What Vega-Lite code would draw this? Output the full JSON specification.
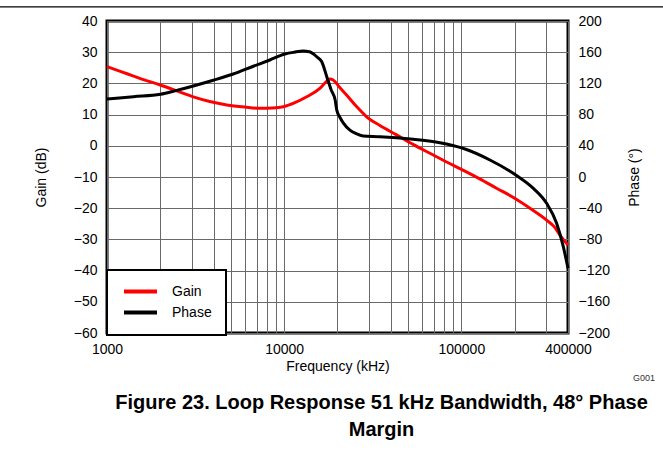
{
  "$schema": "https://vega.github.io/schema/vega-lite/v6.json",
  "width": 461,
  "height": 312,
  "autosize": {"type": "none"},
  "padding": {"left": 107, "top": 21, "right": 95, "bottom": 120},
  "background": "white",
  "config": {
    "font": "Liberation Sans",
    "view": {"stroke": "black", "strokeWidth": 3},
    "axis": {
      "labelFont": "Liberation Sans",
      "labelFontSize": 14,
      "labelColor": "black",
      "titleFont": "Liberation Sans",
      "titleFontSize": 14,
      "titleFontWeight": "normal",
      "titleColor": "black",
      "domain": false,
      "ticks": false,
      "gridColor": "#6a6a6a",
      "gridWidth": 1,
      "gridOpacity": 1
    },
    "legend": {
      "orient": "none",
      "legendX": 0,
      "legendY": 249,
      "strokeColor": "black",
      "strokeWidth": 2,
      "fillColor": "white",
      "padding": 14,
      "symbolType": "M-3,0H3",
      "symbolSize": 121,
      "symbolStrokeWidth": 4,
      "labelFont": "Liberation Sans",
      "labelFontSize": 14,
      "labelColor": "black",
      "rowPadding": 4,
      "symbolOffset": 12,
      "labelOffset": 24
    }
  },
  "title": {
    "text": ["Figure 23. Loop Response 51 kHz Bandwidth, 48° Phase", "Margin"],
    "orient": "bottom",
    "anchor": "middle",
    "frame": "group",
    "dx": 44,
    "offset": 10,
    "font": "Liberation Sans",
    "fontSize": 20,
    "fontWeight": "bold",
    "color": "black",
    "lineHeight": 27
  },
  "datasets": {
    "gain": [
      {"f": 1000, "gain": 25.4},
      {"f": 1200, "gain": 23.8},
      {"f": 1400, "gain": 22.4},
      {"f": 1530, "gain": 21.6},
      {"f": 2000, "gain": 19.5},
      {"f": 2500, "gain": 17.5},
      {"f": 3070, "gain": 15.7},
      {"f": 3800, "gain": 14.2},
      {"f": 4740, "gain": 13.1},
      {"f": 6000, "gain": 12.4},
      {"f": 7300, "gain": 12.0},
      {"f": 8600, "gain": 12.1},
      {"f": 9900, "gain": 12.5},
      {"f": 11500, "gain": 13.8},
      {"f": 13400, "gain": 15.7},
      {"f": 15900, "gain": 18.4},
      {"f": 17300, "gain": 20.6},
      {"f": 18100, "gain": 21.4},
      {"f": 18900, "gain": 21.1},
      {"f": 20600, "gain": 18.7},
      {"f": 22500, "gain": 16.3},
      {"f": 25700, "gain": 12.5},
      {"f": 29200, "gain": 9.3},
      {"f": 34700, "gain": 6.5},
      {"f": 43100, "gain": 3.5},
      {"f": 54000, "gain": 0.3},
      {"f": 66500, "gain": -2.4},
      {"f": 82000, "gain": -5.1},
      {"f": 102000, "gain": -7.8},
      {"f": 127000, "gain": -10.6},
      {"f": 158000, "gain": -13.6},
      {"f": 200000, "gain": -16.8},
      {"f": 244000, "gain": -20.0},
      {"f": 303000, "gain": -23.8},
      {"f": 335000, "gain": -26.0},
      {"f": 360000, "gain": -28.6},
      {"f": 400000, "gain": -31.8}
    ],
    "phase": [
      {"f": 1000, "phase": 100},
      {"f": 1410, "phase": 103},
      {"f": 2000, "phase": 106},
      {"f": 2470, "phase": 111},
      {"f": 3070, "phase": 116.7},
      {"f": 3980, "phase": 124},
      {"f": 5160, "phase": 132},
      {"f": 6700, "phase": 142},
      {"f": 8300, "phase": 150},
      {"f": 10100, "phase": 157.7},
      {"f": 11400, "phase": 160},
      {"f": 12800, "phase": 161.5},
      {"f": 13900, "phase": 160.6},
      {"f": 15300, "phase": 154},
      {"f": 16300, "phase": 147.8},
      {"f": 17400, "phase": 128.6},
      {"f": 18400, "phase": 112},
      {"f": 19400, "phase": 98.7},
      {"f": 19800, "phase": 86},
      {"f": 20700, "phase": 76},
      {"f": 21600, "phase": 69},
      {"f": 23500, "phase": 60},
      {"f": 25500, "phase": 55.5},
      {"f": 27900, "phase": 52.6},
      {"f": 34700, "phase": 51.7},
      {"f": 53500, "phase": 48.3},
      {"f": 75700, "phase": 44},
      {"f": 102000, "phase": 36.8},
      {"f": 145000, "phase": 21.8},
      {"f": 205000, "phase": 2},
      {"f": 255000, "phase": -14.5},
      {"f": 303000, "phase": -33.7},
      {"f": 345000, "phase": -59.4},
      {"f": 376000, "phase": -89},
      {"f": 400000, "phase": -117}
    ]
  },
  "layer": [
    {
      "data": {"name": "gain"},
      "mark": {"type": "line", "strokeWidth": 3, "interpolate": "monotone"},
      "encoding": {
        "x": {
          "field": "f",
          "type": "quantitative",
          "scale": {"type": "log", "domain": [1000, 400000], "nice": false},
          "axis": {
            "title": "Frequency (kHz)",
            "values": [1000, 2000, 3000, 4000, 5000, 6000, 7000, 8000, 9000, 10000, 20000, 30000, 40000, 50000, 60000, 70000, 80000, 90000, 100000, 200000, 300000, 400000],
            "labelExpr": "datum.value == 1000 || datum.value == 10000 || datum.value == 100000 || datum.value == 400000 ? format(datum.value, 'd') : ''",
            "labelFlush": false,
            "labelOverlap": false,
            "labelPadding": 9,
            "titlePadding": 3,
            "grid": true
          }
        },
        "y": {
          "field": "gain",
          "type": "quantitative",
          "scale": {"domain": [-60, 40], "nice": false, "zero": false},
          "axis": {
            "orient": "left",
            "title": "Gain (dB)",
            "values": [-60, -50, -40, -30, -20, -10, 0, 10, 20, 30, 40],
            "grid": true,
            "labelPadding": 10,
            "titlePadding": 25
          }
        },
        "color": {
          "datum": "Gain",
          "type": "nominal",
          "scale": {"domain": ["Gain", "Phase"], "range": ["#ff0000", "#000000"]},
          "legend": {"title": null}
        }
      }
    },
    {
      "data": {"name": "phase"},
      "mark": {"type": "line", "strokeWidth": 3, "interpolate": "monotone"},
      "encoding": {
        "x": {
          "field": "f",
          "type": "quantitative",
          "scale": {"type": "log", "domain": [1000, 400000], "nice": false}
        },
        "y": {
          "field": "phase",
          "type": "quantitative",
          "scale": {"domain": [-200, 200], "nice": false, "zero": false},
          "axis": {
            "orient": "right",
            "title": "Phase (°)",
            "values": [-200, -160, -120, -80, -40, 0, 40, 80, 120, 160, 200],
            "grid": false,
            "labelPadding": 10,
            "titlePadding": 18,
            "titleAngle": 270,
            "titleBaseline": "top"
          }
        },
        "color": {"datum": "Phase", "type": "nominal"}
      }
    },
    {
      "data": {"values": [{}]},
      "mark": {"type": "rule", "clip": false, "strokeWidth": 1.3, "color": "black"},
      "encoding": {
        "x": {"datum": 240, "type": "quantitative"},
        "x2": {"datum": 1400000},
        "y": {"datum": 44.5, "type": "quantitative", "scale": {"domain": [-60, 40], "nice": false, "zero": false}, "axis": null}
      }
    },
    {
      "data": {"values": [{}]},
      "mark": {"type": "text", "clip": false, "fontSize": 9, "color": "#333333", "font": "Liberation Sans"},
      "encoding": {
        "x": {"datum": 1073000, "type": "quantitative"},
        "y": {"datum": -74.4, "type": "quantitative", "scale": {"domain": [-60, 40], "nice": false, "zero": false}, "axis": null},
        "text": {"value": "G001"}
      }
    }
  ],
  "resolve": {"scale": {"y": "independent"}}
}
